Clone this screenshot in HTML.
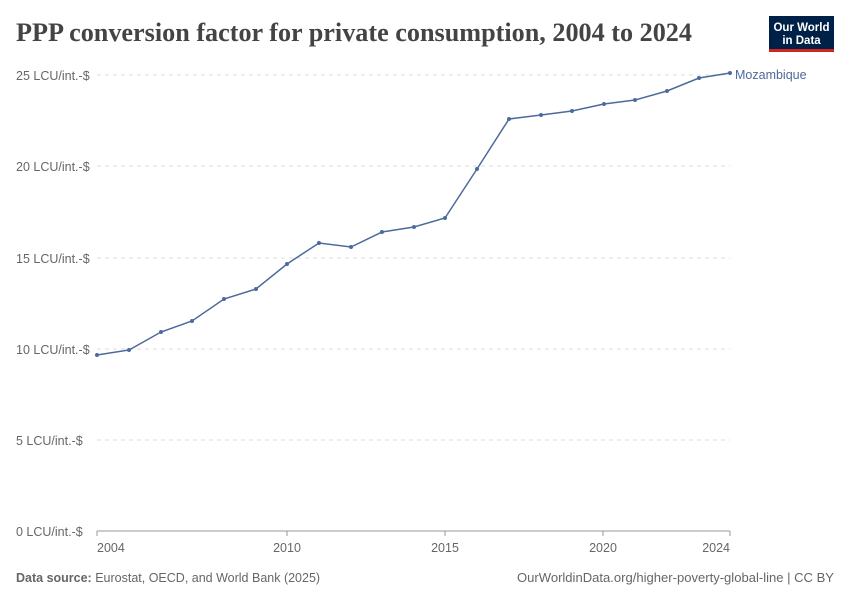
<!DOCTYPE html>
<html><head><meta charset="utf-8"><style>
body{margin:0;background:#fff;width:850px;height:600px;overflow:hidden;font-family:"Liberation Sans",sans-serif}
</style></head><body>
<svg width="850" height="600" xmlns="http://www.w3.org/2000/svg" font-family="Liberation Sans, sans-serif">
<text x="16" y="41" font-family="Liberation Serif, serif" font-size="26" font-weight="bold" fill="#444" textLength="676" lengthAdjust="spacingAndGlyphs">PPP conversion factor for private consumption, 2004 to 2024</text>
<rect x="769" y="16" width="65" height="36" fill="#002147"/>
<rect x="769" y="49" width="65" height="3" fill="#ce261e"/>
<text x="801.5" y="31" font-size="11.5" fill="#fff" text-anchor="middle" font-weight="bold">Our World</text>
<text x="801.5" y="44" font-size="11.5" fill="#fff" text-anchor="middle" font-weight="bold">in Data</text>
<g stroke="#ddd" stroke-dasharray="4,4">
<line x1="97" x2="730" y1="75" y2="75"/><line x1="97" x2="730" y1="166" y2="166"/>
<line x1="97" x2="730" y1="258" y2="258"/><line x1="97" x2="730" y1="349" y2="349"/>
<line x1="97" x2="730" y1="440" y2="440"/>
</g>
<line x1="97" x2="730" y1="531" y2="531" stroke="#999"/>
<g font-size="12.5" fill="#666">
<text x="16" y="80">25 LCU/int.-$</text><text x="16" y="171">20 LCU/int.-$</text>
<text x="16" y="263">15 LCU/int.-$</text><text x="16" y="354">10 LCU/int.-$</text>
<text x="16" y="445">5 LCU/int.-$</text><text x="16" y="536">0 LCU/int.-$</text>
<text x="97" y="552">2004</text><text x="287" y="552" text-anchor="middle">2010</text>
<text x="445" y="552" text-anchor="middle">2015</text><text x="603" y="552" text-anchor="middle">2020</text>
<text x="730" y="552" text-anchor="end">2024</text>
</g>
<g stroke="#999"><line x1="97" x2="97" y1="531" y2="536"/><line x1="287" x2="287" y1="531" y2="536"/><line x1="445" x2="445" y1="531" y2="536"/><line x1="603" x2="603" y1="531" y2="536"/><line x1="730" x2="730" y1="531" y2="536"/></g>
<polyline fill="none" stroke="#4c6a9c" stroke-width="1.5" points="97,355 129,350 161,332 192,321 224,299 256,289 287,264 319,243 351,247 382,232 414,227 445,218 477,169 509,119 541,115 572,111 604,104 635,100 667,91 699,78 730,73"/>
<g fill="#4c6a9c">
<circle cx="97" cy="355" r="2"/><circle cx="129" cy="350" r="2"/><circle cx="161" cy="332" r="2"/><circle cx="192" cy="321" r="2"/><circle cx="224" cy="299" r="2"/><circle cx="256" cy="289" r="2"/><circle cx="287" cy="264" r="2"/><circle cx="319" cy="243" r="2"/><circle cx="351" cy="247" r="2"/><circle cx="382" cy="232" r="2"/><circle cx="414" cy="227" r="2"/><circle cx="445" cy="218" r="2"/><circle cx="477" cy="169" r="2"/><circle cx="509" cy="119" r="2"/><circle cx="541" cy="115" r="2"/><circle cx="572" cy="111" r="2"/><circle cx="604" cy="104" r="2"/><circle cx="635" cy="100" r="2"/><circle cx="667" cy="91" r="2"/><circle cx="699" cy="78" r="2"/><circle cx="730" cy="73" r="2"/>
</g>
<text x="735" y="79" font-size="12.5" fill="#4c6a9c">Mozambique</text>
<text x="16" y="582" font-size="12.5" fill="#666"><tspan font-weight="bold">Data source:</tspan> Eurostat, OECD, and World Bank (2025)</text>
<text x="834" y="582" font-size="12.5" fill="#666" text-anchor="end" textLength="317" lengthAdjust="spacingAndGlyphs">OurWorldinData.org/higher-poverty-global-line | CC BY</text>
</svg>
</body></html>
